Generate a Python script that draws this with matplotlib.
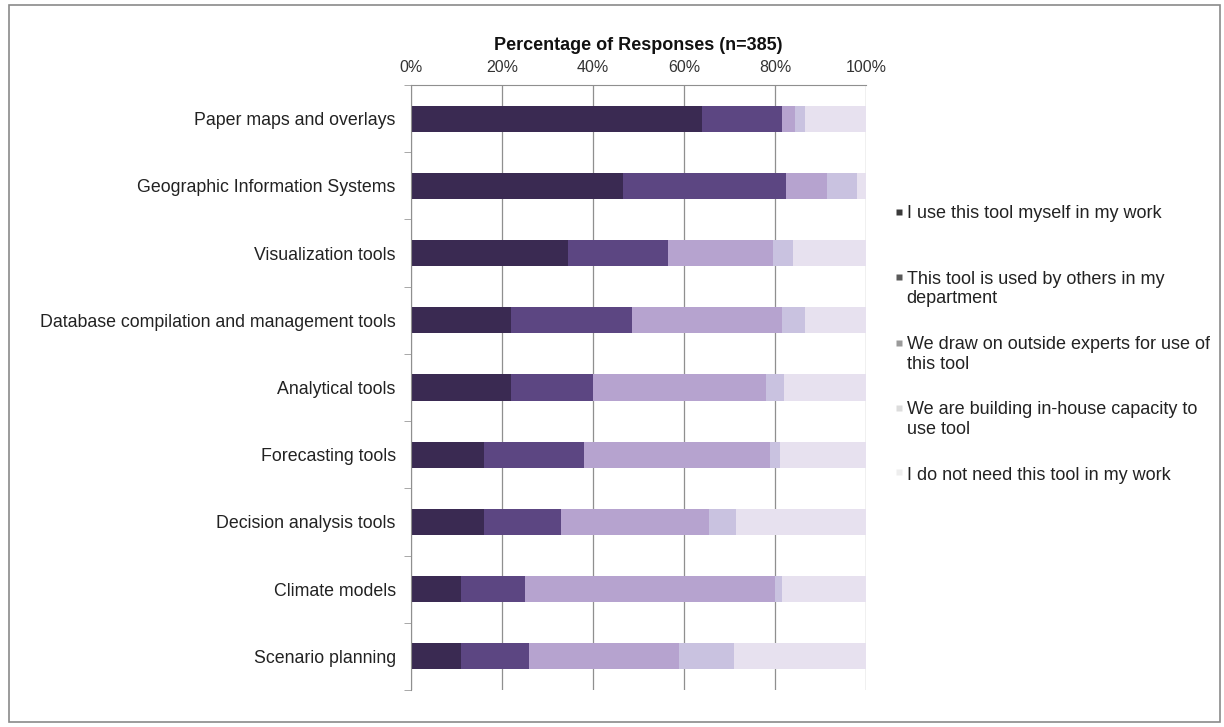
import matplotlib
matplotlib.use("Agg")
import matplotlib.pyplot as plt
import numpy as np
from matplotlib.lines import Line2D
from matplotlib.patches import Rectangle
from matplotlib.legend_handler import HandlerLine2D

plt.rcParams['font.family'] = ['Liberation Sans', 'DejaVu Sans']

categories = [
    "Paper maps and overlays",
    "Geographic Information Systems",
    "Visualization tools",
    "Database compilation and management tools",
    "Analytical tools",
    "Forecasting tools",
    "Decision analysis tools",
    "Climate models",
    "Scenario planning",
]
series_names = [
    "I use this tool myself in my work\n",
    "This tool is used by others in my\ndepartment",
    "We draw on outside experts for use of\nthis tool",
    "We are building in-house capacity to\nuse tool",
    "I do not need this tool in my work",
]
use_myself    = [64.0, 46.5, 34.5, 22.0, 22.0, 16.0, 16.0, 11.0, 11.0]
used_by_other = [17.5, 36.0, 22.0, 26.5, 18.0, 22.0, 17.0, 14.0, 15.0]
outside_exp   = [ 3.0,  9.0, 23.0, 33.0, 38.0, 41.0, 32.5, 55.0, 33.0]
building_cap  = [ 2.0,  6.5,  4.5,  5.0,  4.0,  2.0,  6.0,  1.5, 12.0]
not_needed    = [13.5,  2.0, 16.0, 13.5, 18.0, 19.0, 28.5, 18.5, 29.0]
xtick_vals = [0, 20, 40, 60, 80, 100]
xtick_labels = ["0%", "20%", "40%", "60%", "80%", "100%"]
title = "Percentage of Responses (n=385)"

series = [use_myself, used_by_other, outside_exp, building_cap, not_needed]
colors = ["#3a2a52", "#5c4682", "#b6a3cf", "#c9c2e0", "#e7e1ef"]
legend_colors = ["#3a3a3a", "#5a5a5a", "#9a9a9a", "#dcdcdc", "#eeeeee"]

W, H = 1224, 727
fig = plt.figure(figsize=(W / 100, H / 100), dpi=100)
ax = fig.add_axes([411 / W, 1 - 690 / H, (866 - 411) / W, (690 - 85) / H])

y = np.arange(len(categories))
left = np.zeros(len(categories))
for vals, col in zip(series, colors):
    ax.barh(y, vals, left=left, height=0.39, color=col, edgecolor="none", zorder=2)
    left += np.array(vals)

ax.set_xlim(0, 100)
ax.set_ylim(len(categories) - 0.5, -0.5)
ax.set_xticks(xtick_vals)
ax.set_xticklabels(xtick_labels, fontsize=11.5, color="#333333")
ax.xaxis.tick_top()
ax.tick_params(axis="x", length=0, pad=7)
ax.grid(axis="x", color="#8f8f8f", linewidth=0.9, zorder=1)

ax.set_yticks(y)
ax.set_yticklabels(categories, fontsize=12.8, color="#222222")
ax.set_yticks(np.arange(len(categories) + 1) - 0.5, minor=True)
ax.tick_params(axis="y", which="major", length=0, pad=11)
ax.tick_params(axis="y", which="minor", length=5, color="#9a9a9a", direction="out")

for s in ["right", "bottom"]:
    ax.spines[s].set_visible(False)
ax.spines["left"].set_color("#8f8f8f")
ax.spines["top"].set_color("#8f8f8f")

fig.text((411 + 866) / 2 / W, 1 - 46 / H, title, ha="center", va="center",
         fontsize=13, fontweight="bold", color="#111111")


class ShiftedHandler(HandlerLine2D):
    def __init__(self, shift, **kw):
        super().__init__(**kw)
        self.shift = shift

    def create_artists(self, legend, orig_handle, xdescent, ydescent, width,
                       height, fontsize, trans):
        arts = super().create_artists(legend, orig_handle, xdescent, ydescent,
                                      width, height, fontsize, trans)
        for a in arts:
            a.set_ydata(np.asarray(a.get_ydata(), dtype=float) + self.shift)
        return arts


handles = [Line2D([0], [0], marker="s", linestyle="none", markersize=4.5,
                  markerfacecolor=c, markeredgecolor="none") for c in legend_colors]
shifts = [8.5, 8.5, 8.5, 8.5, 1.5]
hmap = {h: ShiftedHandler(s) for h, s in zip(handles, shifts)}
leg = fig.legend(handles, series_names, loc="upper left", handler_map=hmap,
                 bbox_to_anchor=(885 / W, 1 - 196 / H), frameon=False, borderpad=0,
                 fontsize=13, labelspacing=1.6, handlelength=0.5, handletextpad=0.2,
                 labelcolor="#222222")
for t in leg.get_texts():
    t.set_linespacing(1.2)

fig.patches.append(Rectangle((9 / W, 1 - 722 / H), (1220 - 9) / W, (722 - 5) / H,
                             transform=fig.transFigure, fill=False,
                             edgecolor="#8a8a8a", linewidth=1.2))

fig.savefig("out.png", dpi=100)
